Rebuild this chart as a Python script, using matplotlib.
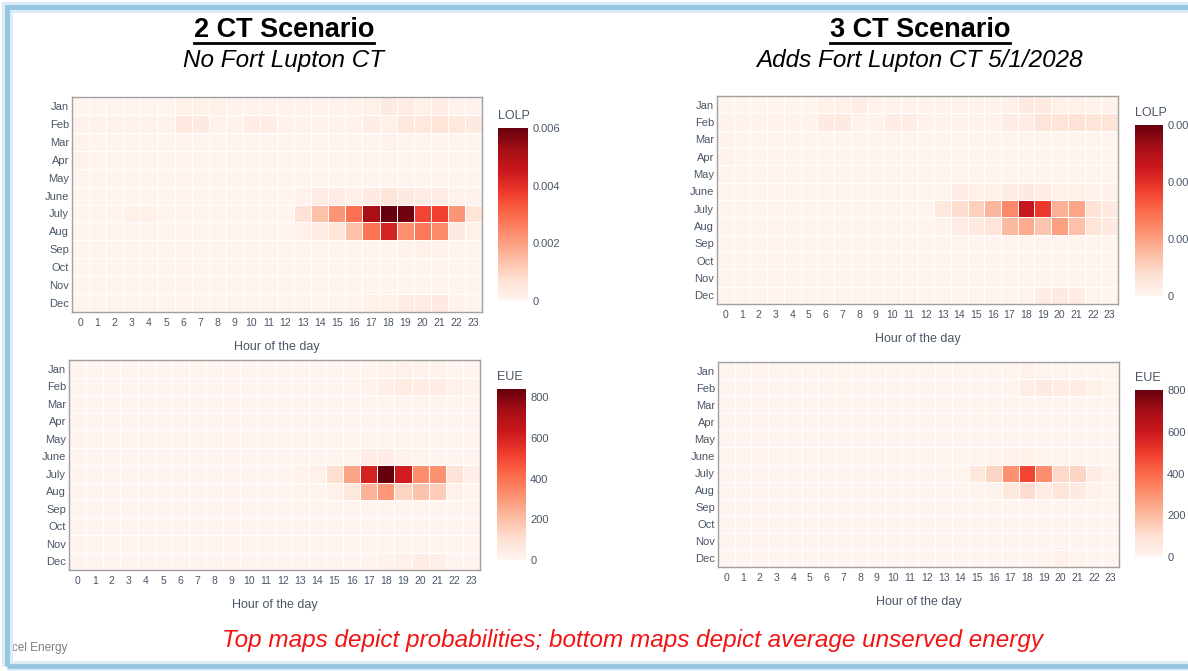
import numpy as np
import matplotlib
matplotlib.use("Agg")
from matplotlib import pyplot as plt
from matplotlib.patches import Rectangle
from matplotlib.lines import Line2D

plt.rcParams['font.family'] = ['Liberation Sans', 'DejaVu Sans']

W, H = 1188, 671
TICK = '#4a5666'

months = ['Jan', 'Feb', 'Mar', 'Apr', 'May', 'June', 'July', 'Aug', 'Sep', 'Oct', 'Nov', 'Dec']
hours = list(range(24))

# loss of load probability, in units of 1e-4
lolp_2ct = [
    [.5, .5, .5, .5, .5, .5, 2, 2, 2, 1, 1, 1, 1, 1, 1, 1, 1, 2, 4, 3, 2, 3, 1, 1],
    [1, 1, 1, 1, 1, 1, 4, 4, 1, 1, 3, 3, 1, 1, 1, 1, 1, 3, 2, 5, 5, 6, 5, 4],
    [1, .5, .5, .5, .5, .5, .5, .5, .5, .5, .5, .5, .5, .5, .5, .5, .5, .5, 1, .5, .5, .5, .5, .5],
    [1, .5, .5, .5, .5, .5, .5, .5, .5, .5, .5, .5, .5, .5, .5, .5, .5, .5, .5, .5, .5, .5, .5, .5],
    [.5, .5, .5, .5, .5, .5, .5, .5, .5, .5, .5, .5, .5, .5, .5, .5, .5, .5, .5, .5, .5, .5, .5, .5],
    [.5, .5, .5, .5, .5, .5, .5, .5, .5, .5, .5, .5, .5, 1, 3, 3, 2, 4, 6, 4, 3, 3, 1, 1],
    [.5, .5, .5, 2, 2, .5, .5, .5, .5, .5, .5, .5, .5, 7, 14, 22, 29, 52, 60, 59, 36, 37, 22, 6],
    [.5, .5, .5, .5, .5, .5, .5, .5, .5, .5, .5, .5, .5, 2, 3, 6, 14, 28, 43, 23, 27, 24, 4, 2],
    [.5, .5, .5, .5, .5, .5, .5, .5, .5, .5, .5, .5, .5, .5, .5, .5, .5, .5, .5, 1, 2, 1, .5, .5],
    [.5, .5, .5, .5, .5, .5, .5, .5, .5, .5, .5, .5, .5, .5, .5, .5, .5, .5, .5, .5, .5, .5, .5, .5],
    [.5, .5, .5, .5, .5, .5, .5, .5, .5, .5, .5, .5, .5, .5, .5, .5, .5, .5, .5, .5, .5, .5, .5, .5],
    [.5, .5, .5, .5, .5, .5, .5, .5, .5, .5, .5, .5, .5, .5, .5, .5, .5, 2, 2, 3, 3, 4, 1, .5],
]

lolp_3ct = [
    [.5, .5, .5, .5, .5, .5, 2, 2, 3, 1, 1, 1, 1, 1, 1, 1, 1, 2, 4, 4, 2, 2, 1, 1],
    [1, 1, 1, 1, 1, 1, 4, 4, 1, 1, 3, 3, 1, 1, 1, 1, 1, 3, 3, 6, 6, 7, 6, 6],
    [1, .5, .5, .5, .5, .5, .5, .5, .5, .5, .5, .5, .5, .5, .5, .5, .5, .5, .5, .5, .5, .5, .5, .5],
    [1, .5, .5, .5, .5, .5, .5, .5, .5, .5, .5, .5, .5, .5, .5, .5, .5, .5, .5, .5, .5, .5, .5, .5],
    [.5, .5, .5, .5, .5, .5, .5, .5, .5, .5, .5, .5, .5, .5, .5, .5, .5, .5, .5, .5, .5, .5, .5, .5],
    [.5, .5, .5, .5, .5, .5, .5, .5, .5, .5, .5, .5, .5, .5, 3, 2, 2, 3, 4, 3, 2, 2, 1, 1],
    [.5, .5, .5, .5, .5, .5, .5, .5, .5, .5, .5, .5, .5, 5, 8, 11, 16, 24, 46, 38, 17, 19, 7, 4],
    [.5, .5, .5, .5, .5, .5, .5, .5, .5, .5, .5, .5, .5, 1, 3, 4, 6, 15, 18, 13, 20, 14, 6, 4],
    [.5, .5, .5, .5, .5, .5, .5, .5, .5, .5, .5, .5, .5, .5, .5, .5, .5, .5, .5, .5, .5, .5, .5, .5],
    [.5, .5, .5, .5, .5, .5, .5, .5, .5, .5, .5, .5, .5, .5, .5, .5, .5, .5, .5, .5, .5, .5, .5, .5],
    [.5, .5, .5, .5, .5, .5, .5, .5, .5, .5, .5, .5, .5, .5, .5, .5, .5, .5, .5, .5, .5, .5, .5, .5],
    [.5, .5, .5, .5, .5, .5, .5, .5, .5, .5, .5, .5, .5, .5, .5, .5, .5, .5, .5, 3, 4, 3, .5, .5],
]

# expected unserved energy
eue_2ct = [
    [5, 5, 5, 5, 5, 5, 5, 8, 5, 5, 5, 5, 5, 5, 5, 5, 5, 5, 15, 20, 15, 15, 5, 5],
    [5, 5, 5, 5, 5, 5, 5, 5, 5, 5, 5, 5, 5, 5, 5, 5, 5, 15, 35, 50, 40, 40, 25, 15],
    [5, 5, 5, 5, 5, 5, 5, 5, 5, 5, 5, 5, 5, 5, 5, 5, 5, 5, 5, 5, 5, 5, 5, 5],
    [5, 5, 5, 5, 5, 5, 5, 5, 5, 5, 5, 5, 5, 5, 5, 5, 5, 5, 5, 5, 5, 5, 5, 5],
    [5, 5, 5, 5, 5, 5, 5, 5, 5, 5, 5, 5, 5, 5, 5, 5, 5, 5, 5, 5, 5, 5, 5, 5],
    [5, 5, 5, 5, 5, 5, 5, 5, 5, 5, 5, 5, 5, 5, 5, 5, 10, 40, 45, 15, 10, 5, 5, 5],
    [5, 5, 5, 5, 5, 5, 5, 5, 5, 5, 5, 5, 5, 15, 25, 110, 270, 600, 840, 620, 330, 320, 90, 30],
    [5, 5, 5, 5, 5, 5, 5, 5, 5, 5, 5, 5, 5, 10, 10, 20, 60, 230, 300, 140, 190, 160, 20, 10],
    [5, 5, 5, 5, 5, 5, 5, 5, 5, 5, 5, 5, 5, 5, 5, 5, 5, 5, 5, 5, 5, 5, 5, 5],
    [5, 5, 5, 5, 5, 5, 5, 5, 5, 5, 5, 5, 5, 5, 5, 5, 5, 5, 5, 5, 5, 5, 5, 5],
    [5, 5, 5, 5, 5, 5, 5, 5, 5, 5, 5, 5, 5, 5, 5, 5, 5, 5, 5, 5, 5, 5, 5, 5],
    [5, 5, 5, 5, 5, 5, 5, 5, 5, 5, 5, 5, 5, 5, 5, 5, 5, 5, 15, 20, 40, 30, 5, 5],
]

eue_3ct = [
    [5, 5, 5, 5, 5, 5, 5, 8, 5, 5, 5, 5, 5, 5, 5, 5, 5, 5, 15, 10, 10, 5, 5, 5],
    [5, 5, 5, 5, 5, 5, 5, 8, 5, 5, 5, 5, 5, 5, 5, 5, 5, 5, 35, 55, 45, 40, 25, 10],
    [5, 5, 5, 5, 5, 5, 5, 5, 5, 5, 5, 5, 5, 5, 5, 8, 5, 5, 5, 5, 5, 5, 5, 5],
    [5, 5, 5, 5, 5, 5, 5, 5, 5, 5, 5, 5, 5, 5, 5, 5, 5, 5, 5, 5, 5, 5, 5, 5],
    [5, 5, 5, 5, 5, 5, 5, 5, 5, 5, 5, 5, 5, 5, 5, 5, 5, 5, 5, 5, 5, 5, 5, 5],
    [5, 5, 5, 5, 5, 5, 5, 5, 5, 5, 5, 5, 5, 5, 5, 5, 5, 20, 25, 10, 5, 5, 5, 5],
    [5, 5, 5, 5, 5, 5, 5, 5, 5, 5, 5, 5, 5, 5, 10, 60, 130, 300, 480, 310, 120, 130, 40, 15],
    [5, 5, 5, 5, 5, 5, 5, 5, 5, 5, 5, 5, 5, 5, 5, 10, 15, 70, 110, 40, 80, 50, 20, 10],
    [5, 5, 5, 5, 5, 5, 5, 5, 5, 5, 5, 5, 5, 5, 5, 5, 5, 5, 5, 5, 5, 5, 5, 5],
    [5, 5, 5, 5, 5, 5, 5, 5, 5, 5, 5, 5, 5, 5, 5, 5, 5, 5, 5, 5, 5, 5, 5, 5],
    [5, 5, 5, 5, 5, 5, 5, 5, 5, 5, 5, 5, 5, 5, 5, 5, 5, 5, 5, 5, 5, 5, 5, 5],
    [5, 5, 5, 5, 5, 5, 5, 5, 5, 5, 5, 5, 5, 5, 5, 5, 5, 5, 5, 10, 20, 10, 5, 5],
]

lolp_ticks = [0, 0.002, 0.004, 0.006]
lolp_ticklabels = ['0', '0.002', '0.004', '0.006']
eue_ticks = [0, 200, 400, 600, 800]
eue_ticklabels = ['0', '200', '400', '600', '800']


def rect(x0, y0, x1, y1):
    return [x0 / W, 1 - y1 / H, (x1 - x0) / W, (y1 - y0) / H]


def heatmap(fig, data, vmax, box, cbox, title, ticks, ticklabels):
    ax = fig.add_axes(rect(*box))
    mesh = ax.pcolormesh(np.arange(25) - 0.5, np.arange(13) - 0.5, np.array(data),
                         cmap='Reds', vmin=0, vmax=vmax,
                         edgecolors='white', linewidth=0.55)
    ax.set_xlim(-0.5, 23.5)
    ax.set_ylim(11.5, -0.5)
    ax.set_xticks(hours)
    ax.set_xticklabels([str(h) for h in hours])
    ax.set_yticks(range(12))
    ax.set_yticklabels(months)
    ax.tick_params(axis='x', length=0, labelsize=7.5, colors=TICK, pad=4)
    ax.tick_params(axis='y', length=0, labelsize=8, colors=TICK, pad=2)
    for s in ax.spines.values():
        s.set_color('#a0a0a0')
        s.set_linewidth(1)
    ax.set_xlabel('Hour of the day', fontsize=9, color=TICK, labelpad=10)

    cax = fig.add_axes(rect(*cbox))
    cb = fig.colorbar(mesh, cax=cax)
    cb.outline.set_visible(False)
    cb.set_ticks(ticks)
    cb.set_ticklabels(ticklabels)
    cax.tick_params(length=0, labelsize=8, colors=TICK, pad=3)
    fig.text(cbox[0] / W, 1 - (cbox[1] - 6) / H, title, fontsize=9, color=TICK,
             ha='left', va='bottom')


fig = plt.figure(figsize=(W / 100, H / 100), dpi=100)

lolp_2 = np.array(lolp_2ct) * 1e-4
lolp_3 = np.array(lolp_3ct) * 1e-4

heatmap(fig, lolp_2, 0.006, (72, 97, 482, 312), (498, 128, 528, 301), 'LOLP', lolp_ticks, lolp_ticklabels)
heatmap(fig, lolp_3, 0.006, (717, 96, 1118, 304), (1135, 125, 1163, 296), 'LOLP', lolp_ticks, lolp_ticklabels)
heatmap(fig, eue_2ct, 840, (69, 360, 480, 570), (497, 389, 526, 560), 'EUE', eue_ticks, eue_ticklabels)
heatmap(fig, eue_3ct, 800, (718, 362, 1119, 567), (1135, 390, 1163, 557), 'EUE', eue_ticks, eue_ticklabels)

# titles
titles = [(284, '2 CT Scenario', 'No Fort Lupton CT'),
          (920, '3 CT Scenario', 'Adds Fort Lupton CT 5/1/2028')]
renderer = fig.canvas.get_renderer()
for xc, head, sub in titles:
    t = fig.text(xc / W, 1 - 30 / H, head, fontsize=19.5, fontweight='bold',
                 ha='center', va='center', color='black')
    fig.text(xc / W, 1 - 60 / H, sub, fontsize=17.5, style='italic',
             ha='center', va='center', color='black')
    bb = t.get_window_extent(renderer)
    fig.add_artist(Line2D([bb.x0 / W, bb.x1 / W], [1 - 43 / H, 1 - 43 / H],
                          color='black', linewidth=2, transform=fig.transFigure))

fig.text(633 / W, 1 - 640 / H,
         'Top maps depict probabilities; bottom maps depict average unserved energy',
         fontsize=17.5, style='italic', color='#f01414', ha='center', va='center')
fig.text(4 / W, 1 - 648 / H, 'Xcel Energy', fontsize=8.5, color='#808080',
         ha='left', va='center', zorder=1)

# slide frame
for lw, col in [(8, '#dcecf6'), (3.5, '#94c6e2')]:
    fig.add_artist(Rectangle((7 / W, 1 - 666 / H), 1300 / W, 659 / H, fill=False,
                             edgecolor=col, linewidth=lw, transform=fig.transFigure,
                             zorder=10))

fig.savefig('out.png', dpi=100)
